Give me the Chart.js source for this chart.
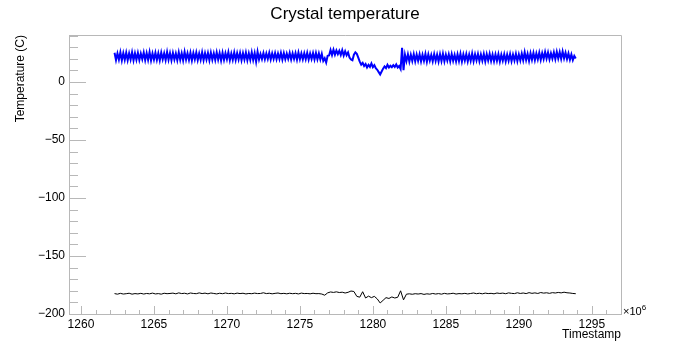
<!DOCTYPE html>
<html lang="en">
	<head>
		<meta charset="utf-8" />
		<title>Crystal temperature</title>
		<script src="https://cdn.jsdelivr.net/npm/chart.js@4.4.0/dist/chart.umd.min.js"></script>
		<style>
			body { margin: 0; background: #fff; }
		</style>
	</head>
	<body>

		<canvas id="myChart" width="690" height="350"></canvas>
		<script type="text/javascript">

			// timestamps are in units of 1e6
			const tStart = 1262.3;
			const blueStep = 0.1;
			const blackStep = 0.2;

			// upper probe (blue), one value per 0.1e6
			const blueTemp = [
				25.2, 18.9, 24.6, 19.3, 25.5, 18.6, 24.9, 19.1, 25.3, 18.8,
				24.7, 19.4, 25.6, 18.7, 24.8, 19.2, 25.1, 18.9, 24.5, 19.6,
				25.4, 18.8, 24.9, 19.0, 25.7, 18.5, 24.6, 19.3, 25.2, 19.0,
				24.8, 18.7, 25.3, 19.5, 24.7, 18.9, 25.8, 19.2, 24.9, 18.6,
				25.1, 19.4, 24.6, 18.8, 25.5, 19.1, 24.8, 18.7, 25.9, 19.3,
				24.7, 19.0, 25.2, 18.6, 24.9, 19.5, 25.4, 18.9, 24.6, 19.2,
				25.6, 18.8, 24.8, 19.4, 25.0, 18.7, 25.3, 19.1, 24.7, 18.9,
				25.5, 19.3, 24.9, 18.6, 25.2, 19.0, 24.8, 19.6, 25.7, 18.8,
				24.6, 19.2, 25.4, 18.9, 24.9, 19.4, 25.1, 18.7, 24.8, 19.3,
				25.3, 18.8, 24.7, 19.1, 25.6, 19.0, 24.9, 17.5, 26.0, 19.4,
				24.1, 19.8, 25.0, 19.6, 24.6, 19.9, 25.2, 19.4, 24.7, 19.8,
				24.9, 19.5, 24.5, 19.7, 25.1, 19.3, 24.8, 19.6, 24.4, 19.9,
				25.0, 19.4, 24.7, 19.8, 24.9, 19.2, 25.3, 19.6, 24.6, 19.5,
				24.8, 19.7, 25.1, 19.3, 24.5, 19.8, 24.9, 19.4, 25.0, 19.6,
				24.6, 19.5, 24.2, 18.2, 20.5, 16.8, 22.5, 22.8, 27.5, 23.2,
				27.8, 23.5, 27.2, 24.0, 26.9, 23.2, 27.4, 22.8, 26.5, 23.0,
				25.5, 21.0, 19.5, 18.8, 23.5, 25.5, 24.2, 21.0, 17.5, 15.0,
				16.5, 13.8, 15.5, 12.5, 14.8, 13.0, 16.0, 12.8, 14.5, 11.8,
				10.5, 8.5, 6.5, 9.0, 11.5, 13.5, 12.0, 14.8, 12.5, 14.0,
				12.8, 14.5, 13.0, 15.2, 12.5, 13.8, 11.2, 29.5, 10.2, 23.5,
				18.0, 23.8, 17.6, 23.5, 18.2, 24.0, 17.8, 23.6, 18.3, 23.9,
				17.7, 23.4, 18.1, 24.2, 17.5, 23.7, 18.4, 23.3, 17.9, 24.0,
				18.2, 23.6, 17.6, 23.9, 18.0, 24.3, 17.8, 23.5, 18.5, 23.8,
				17.9, 24.1, 18.3, 23.4, 17.7, 23.9, 18.1, 24.4, 17.6, 23.7,
				18.4, 24.0, 17.8, 23.6, 18.2, 24.5, 17.9, 23.8, 18.6, 24.2,
				18.0, 23.7, 18.3, 24.1, 17.7, 23.9, 18.5, 24.3, 18.1, 23.6,
				17.9, 23.8, 18.2, 24.0, 17.6, 23.5, 18.4, 23.9, 17.8, 23.7,
				18.3, 24.1, 17.9, 23.6, 18.5, 24.2, 18.0, 23.8, 18.6, 24.4,
				18.7, 25.6, 19.0, 24.3, 18.2, 24.8, 19.2, 25.1, 18.8, 24.6,
				19.5, 25.3, 19.1, 24.9, 19.8, 25.8, 20.2, 25.4, 19.6, 24.8,
				20.1, 25.5, 19.7, 26.0, 20.3, 25.7, 19.9, 26.3, 20.4, 25.2,
				19.8, 24.6, 19.2, 23.8, 18.9, 22.5, 20.3
			];

			// crystal (black), one value per 0.2e6
			const blackTemp = [
				-182.4, -182.9, -182.2, -182.8, -182.5, -182.1, -182.9, -182.4, -182.7, -182.2,
				-182.8, -182.3, -182.6, -182.0, -182.7, -182.4, -182.9, -182.1, -182.5, -182.3,
				-182.0, -182.6, -181.8, -182.4, -182.1, -182.7, -181.9, -182.3, -182.5, -181.8,
				-182.4, -182.0, -182.6, -181.9, -182.3, -182.7, -182.1, -182.5, -181.9, -182.4,
				-182.2, -182.6, -182.0, -182.4, -182.1, -182.7, -182.3, -182.5, -182.0, -182.4,
				-182.3, -181.7, -182.4, -182.1, -182.6, -182.2, -181.9, -182.5, -182.2, -182.6,
				-182.1, -182.5, -182.2, -182.7, -182.0, -182.4, -182.3, -182.6, -182.1, -182.5,
				-182.4, -182.8, -183.8, -181.8, -181.0, -181.4, -180.9, -181.5, -181.2, -181.9,
				-181.3, -180.2, -180.6, -184.8, -185.5, -180.8, -186.2, -184.6, -185.9, -184.8,
				-187.0, -190.5, -188.2, -185.9, -186.6, -185.3, -186.2, -185.6, -180.0, -187.8,
				-182.9, -182.6, -183.0, -182.5, -182.8, -182.4, -183.1, -182.6, -182.9, -182.3,
				-182.8, -182.4, -182.9, -182.2, -182.7, -182.5, -182.1, -182.8, -182.4, -182.6,
				-182.2, -182.7, -182.3, -181.9, -182.5, -182.1, -182.6, -182.0, -182.4, -182.2,
				-182.6, -181.9, -182.3, -182.0, -182.5, -181.8, -182.2, -182.4, -181.7, -182.3,
				-181.9, -182.4, -181.6, -182.2, -181.8, -182.3, -181.5, -182.0, -181.7, -182.2,
				-181.6, -181.9, -181.4, -181.8, -181.2, -181.7, -181.9, -182.3, -182.5
			];

			const xMin = 1259.18, xMax = 1297.0;
			const yMin = -200, yMax = 40.5;

			const FONT = "'Liberation Sans', Arial, Helvetica, sans-serif";
			const frameColor = '#b8b8b8';

			function toPoints(values, step) {
				return values.map((v, i) => ({ x: tStart + i * step, y: v }));
			}

			function fmt(v) {
				return v < 0 ? '\u2212' + (-v) : String(v);
			}

			// ROOT style frame: ticks pointing inward, x10^6 exponent label
			const rootFrame = {
				id: 'rootFrame',
				afterDraw(chart) {
					const ctx = chart.ctx;
					const a = chart.chartArea;
					const xs = chart.scales.x;
					const ys = chart.scales.y;
					ctx.save();
					ctx.strokeStyle = frameColor;
					ctx.lineWidth = 1;
					ctx.beginPath();
					ctx.moveTo(a.left, a.top + 0.5);
					ctx.lineTo(a.right + 0.5, a.top + 0.5);
					ctx.lineTo(a.right + 0.5, a.bottom);
					ys.ticks.forEach(t => {
						const py = Math.round(ys.getPixelForValue(t.value)) + 0.5;
						const len = t.value % 50 === 0 ? 17 : 9;
						ctx.moveTo(a.left, py);
						ctx.lineTo(a.left + len, py);
					});
					xs.ticks.forEach(t => {
						const px = Math.round(xs.getPixelForValue(t.value)) + 0.5;
						const len = t.value % 5 === 0 ? 8 : 4;
						ctx.moveTo(px, a.bottom);
						ctx.lineTo(px, a.bottom - len);
					});
					ctx.stroke();

					ctx.fillStyle = '#000';
					ctx.textBaseline = 'alphabetic';
					ctx.textAlign = 'left';
					ctx.font = '11px ' + FONT;
					ctx.fillText('\u00d710', a.right + 2, a.bottom + 1);
					const w = ctx.measureText('\u00d710').width;
					ctx.font = '8px ' + FONT;
					ctx.fillText('6', a.right + 2 + w, a.bottom - 4);
					ctx.restore();
				}
			};

			create_Chart();

			function create_Chart()
			{
				const ctx = document.getElementById('myChart').getContext('2d');
				const myChart = new Chart(ctx, {
					type: 'line',
					data: {
						datasets: [{
							label: 'upper',
							data: toPoints(blueTemp, blueStep),
							borderColor: '#0000ff',
							borderWidth: 2,
							pointRadius: 0,
							tension: 0
						}, {
							label: 'crystal',
							data: toPoints(blackTemp, blackStep),
							borderColor: '#000000',
							borderWidth: 1,
							pointRadius: 0,
							tension: 0
						}]
					},
					options: {
						responsive: false,
						animation: false,
						layout: { padding: 0 },
						plugins: {
							legend: { display: false },
							tooltip: { enabled: false },
							title: {
								display: true,
								text: 'Crystal temperature',
								color: '#000',
								font: { family: FONT, size: 17, weight: 'normal' },
								padding: { top: 4, bottom: 10.6 }
							}
						},
						scales: {
							x: {
								type: 'linear',
								min: xMin,
								max: xMax,
								afterFit(scale) { scale.height = 36; },
								grid: { drawOnChartArea: false, drawTicks: false },
								border: { display: true, color: frameColor },
								ticks: {
									stepSize: 1,
									includeBounds: false,
									autoSkip: false,
									maxRotation: 0,
									padding: 3,
									color: '#000',
									font: { family: FONT, size: 12 },
									callback: v => (v % 5 === 0 ? String(v) : '')
								},
								title: {
									display: true,
									text: 'Timestamp',
									align: 'end',
									color: '#000',
									font: { family: FONT, size: 12 },
									padding: { top: 0, bottom: 8 }
								}
							},
							y: {
								min: yMin,
								max: yMax,
								afterFit(scale) { scale.width = 69; },
								grid: { drawOnChartArea: false, drawTicks: false },
								border: { display: true, color: frameColor },
								ticks: {
									stepSize: 10,
									includeBounds: false,
									autoSkip: false,
									padding: 4,
									color: '#000',
									font: { family: FONT, size: 12 },
									callback: v => (v % 50 === 0 ? fmt(v) : '')
								},
								title: {
									display: true,
									text: 'Temperature (C)',
									align: 'end',
									color: '#000',
									font: { family: FONT, size: 12 },
									padding: { top: 13, bottom: 0 }
								}
							},
							// empty right margin so the title is centred on the page
							yRight: {
								position: 'right',
								min: yMin,
								max: yMax,
								afterFit(scale) { scale.width = 69; },
								grid: { display: false },
								border: { display: false },
								ticks: { display: false }
							}
						}
					},
					plugins: [rootFrame]
				});
			}
		</script>
	</body>
</html>
